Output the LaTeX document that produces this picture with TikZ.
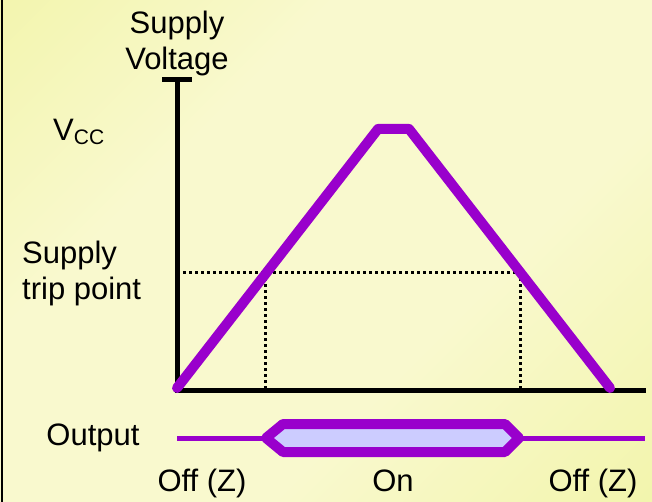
\documentclass[tikz,border=0pt]{standalone}
\usepackage{fontspec}
\setmainfont{Liberation Sans}
\usepackage{xcolor}
\usetikzlibrary{positioning}
\definecolor{bgy}{RGB}{238,242,152}
\definecolor{bgw}{RGB}{249,249,206}
\definecolor{sig}{RGB}{153,0,204}
\definecolor{onfill}{RGB}{204,204,255}
\pgfdeclarehorizontalshading{bgshade}{100bp}{color(0bp)=(bgy); color(35bp)=(bgw); color(62bp)=(bgw); color(100bp)=(bgy)}

\begin{document}
\begin{tikzpicture}[
  x=1pt, y=-1pt,
  lab/.style={inner sep=0pt, font=\fontsize{31}{36}\selectfont},
  ax/.style={line width=5pt},
  wave/.style={draw=sig, line width=10pt, line join=round},
  guide/.style={line width=3pt, dash pattern=on 3pt off 3pt}
]
\useasboundingbox (0,0) rectangle (652,502);
\shade[shading=bgshade, shading angle=-45] (0,0) rectangle (652,502);
\draw[line width=1.5pt] (2,0) -- (2,502);

\coordinate (top) at (177,78);
\coordinate (o)   at (177,390);
\coordinate (xe)  at (646,390);
\coordinate (tl)  at (162,80);
\coordinate (tr)  at (192,80);

\coordinate (rise) at (177,388);
\coordinate (pk1)  at (378,129);
\coordinate (pk2)  at (409,129);
\coordinate (fall) at (610,388);

\coordinate (th)  at (177,272);
\coordinate (ta)  at (265,272);
\coordinate (tb)  at (520,272);
\coordinate (ta0) at (265,390);
\coordinate (tb0) at (520,390);

\coordinate (s0) at (177,438);
\coordinate (h1) at (266,438);
\coordinate (h2) at (283,424);
\coordinate (h3) at (505,424);
\coordinate (h4) at (519,438);
\coordinate (h5) at (505,452);
\coordinate (h6) at (283,452);
\coordinate (s1) at (645,438);

\node[lab, align=center] (ylab) at (177,43) {Supply\\Voltage};
\node[lab, anchor=west] (vcc) at (53,132) {V\raisebox{-0.25ex}{\fontsize{21}{21}\selectfont CC}};
\node[lab, align=left, anchor=west] (trip) at (22,273) {Supply\\trip point};
\node[lab] (outlab) at (93,438) {Output};
\node[lab, anchor=base] (offl) at (202,491) {Off (Z)};
\node[lab, anchor=base] (on)   at (393,491) {On};
\node[lab, anchor=base] (offr) at (593,491) {Off (Z)};

\draw[guide] (th) -- (tb);
\draw[guide] (ta) -- (ta0);
\draw[guide] (tb) -- (tb0);

\draw[ax] (tl) -- (tr);
\draw[ax] (top) -- (o) -- (xe);

\draw[wave, line cap=round] (rise) -- (pk1) -- (pk2) -- (fall);

\draw[sig, line width=5pt] (s0) -- (h1);
\draw[sig, line width=5pt] (h4) -- (s1);
\draw[wave, fill=onfill] (h1) -- (h2) -- (h3) -- (h4) -- (h5) -- (h6) -- cycle;
\end{tikzpicture}
\end{document}
